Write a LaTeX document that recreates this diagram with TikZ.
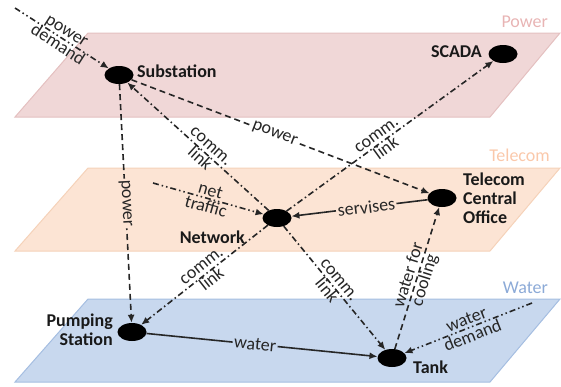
\documentclass[tikz,border=0pt]{standalone}
\usepackage{fontspec}
\setmainfont{Carlito}
\usetikzlibrary{shapes.geometric,arrows.meta}
\definecolor{pwfill}{RGB}{240,215,215}
\definecolor{pwdraw}{RGB}{228,192,192}
\definecolor{pwtext}{RGB}{232,180,180}
\definecolor{tcfill}{RGB}{252,228,212}
\definecolor{tcdraw}{RGB}{245,210,185}
\definecolor{tctext}{RGB}{250,200,170}
\definecolor{wafill}{RGB}{200,216,238}
\definecolor{wadraw}{RGB}{165,190,225}
\definecolor{watext}{RGB}{140,170,215}
\begin{document}
\begin{tikzpicture}[x=1pt,y=-1pt,
  dot/.style={ellipse,fill=black,minimum width=29pt,minimum height=18pt,inner sep=0pt},
  nlab/.style={font=\fontsize{18}{19}\selectfont\bfseries,text=black!90,inner sep=0pt},
  plab/.style={font=\fontsize{18}{19}\selectfont,inner sep=0pt,anchor=east},
  conn/.style={line width=1.6pt,draw=black!85,-{Latex[length=8pt,width=7pt]}},
  pwline/.style={conn,dash pattern=on 6pt off 4pt},
  commline/.style={conn,dash pattern=on 6pt off 3pt on 1.5pt off 3pt},
  demline/.style={conn,dash pattern=on 6pt off 3pt on 1.5pt off 3pt on 1.5pt off 3pt},
  elab/.style={font=\fontsize{18}{17}\selectfont,text=black!85,sloped,inner sep=0pt,align=center},
  flab/.style={elab,inner sep=1.5pt}
]
\useasboundingbox (0,0) rectangle (561,386);
% planes
\filldraw[fill=pwfill,draw=pwdraw,line width=1pt] (88,33) -- (560,33) -- (490,117) -- (15,117) -- cycle;
\filldraw[fill=tcfill,draw=tcdraw,line width=1pt] (88,168) -- (560,168) -- (490,251) -- (15,251) -- cycle;
\filldraw[fill=wafill,draw=wadraw,line width=1pt] (88,299) -- (560,299) -- (490,382) -- (15,382) -- cycle;
\node[plab,text=pwtext] (plP) at (548,22) {Power};
\node[plab,text=tctext] (plT) at (550,155) {Telecom};
\node[plab,text=watext] (plW) at (548,288) {Water};
% nodes
\node[dot] (sub) at (119,75) {};
\node[dot] (scada) at (503,54) {};
\node[dot] (net) at (277,218) {};
\node[dot] (tco) at (442,198) {};
\node[dot] (pump) at (132,332) {};
\node[dot] (tank) at (392,358) {};
\node[nlab,anchor=west] (subL) at (137,71) {Substation};
\node[nlab,anchor=east] (scadaL) at (482,52) {SCADA};
\node[nlab,anchor=east] (netL) at (245,237) {Network};
\node[nlab,anchor=west,align=left] (tcoL) at (463,198) {Telecom\\Central\\Office};
\node[nlab,anchor=east,align=right] (pumpL) at (113,330) {Pumping\\Station};
\node[nlab,anchor=west] (tankL) at (413,367) {Tank};
\coordinate (pd) at (15,8);
\coordinate (nt) at (153,183);
\coordinate (wd) at (532,303);
% connectors
\draw[demline] (pd) -- node[elab,pos=0.5] (lpd) {power\\demand} (sub);
\draw[pwline] (sub) -- node[flab,fill=white,pos=0.48] (lp1) {power} (tco);
\draw[commline] (net) -- node[elab,pos=0.45] (lc1) {comm.\\link} (sub);
\draw[commline] (net) -- node[elab,pos=0.46] (lc2) {comm.\\link} (scada);
\draw[pwline] (sub) -- node[flab,fill=tcfill,pos=0.5] (lp2) {power} (pump);
\draw[demline] (nt) -- node[elab,pos=0.5] (lnt) {net\\traffic} (net);
\draw[conn] (tco) -- node[flab,fill=tcfill,pos=0.45] (lsv) {servises} (net);
\draw[commline] (net) -- node[elab,pos=0.48] (lc3) {comm.\\link} (pump);
\draw[commline] (net) -- node[elab,pos=0.48] (lc4) {comm.\\link} (tank);
\draw[pwline] (tank) -- node[elab,pos=0.5] (lwc) {water for\\cooling} (tco);
\draw[conn] (pump) -- node[flab,fill=wafill,pos=0.47] (lw) {water} (tank);
\draw[demline] (wd) -- node[elab,pos=0.49] (lwd) {water\\demand} (tank);
\end{tikzpicture}
\end{document}
